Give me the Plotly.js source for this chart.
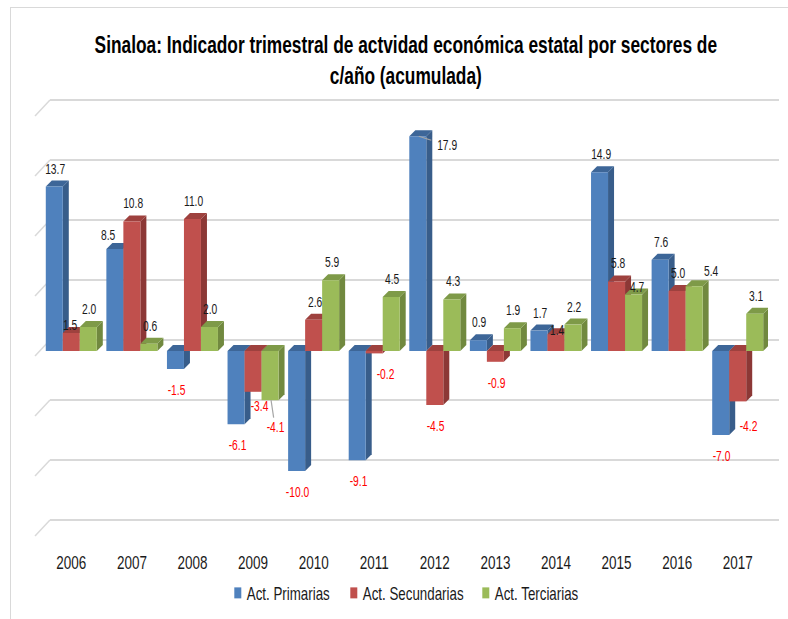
<!DOCTYPE html>
<html>
<head>
<meta charset="utf-8">
<script src="https://cdn.plot.ly/plotly-3.0.1.min.js"></script>
<style>
  html, body { margin: 0; padding: 0; background: #ffffff; overflow: hidden; }
  #chart { position: absolute; left: 0; top: 0; width: 788px; height: 619px; }
  #frame { position: absolute; left: 10px; top: 7px; width: 778px; height: 612px;
           border-left: 1.5px solid #d9d9d9; border-top: 1.5px solid #d9d9d9;
           pointer-events: none; z-index: 5; }
</style>
</head>
<body>
<div id="chart"></div>
<div id="frame"></div>
<script>
// ---------------- data ----------------
const years = ['2006','2007','2008','2009','2010','2011','2012','2013','2014','2015','2016','2017'];
const primarias   = [13.7, 8.5, -1.5, -6.1, -10.0, -9.1, 17.9, 0.9, 1.7, 14.9, 7.6, -7.0];
const secundarias = [1.5, 10.8, 11.0, -3.4, 2.6, -0.2, -4.5, -0.9, 1.4, 5.8, 5.0, -4.2];
const terciarias  = [2.0, 0.6, 2.0, -4.1, 5.9, 4.5, 4.3, 1.9, 2.2, 4.7, 5.4, 3.1];
const seriesNames = ['Act. Primarias', 'Act. Secundarias', 'Act. Terciarias'];
const gridVals = [-15, -10, -5, 0, 5, 10, 15, 20];
const titleLine1 = 'Sinaloa: Indicador trimestral de actvidad económica estatal por sectores de';
const titleLine2 = 'c/año (acumulada)';

// ---------------- styling ----------------
const frontColors = ['#4F81BD', '#C0504D', '#9BBB59'];
const sideColors  = ['#385D8A', '#8C3836', '#71893F'];
const topColors   = ['#3D6698', '#9E413E', '#7E9A48'];
const fam = 'Liberation Sans, Arial, sans-serif';

// label placement tweaks (pixels) keyed "series|year", as Excel moved some labels
const labelNudge = {
  '0|2007': [-8, 4], '1|2006': [-2, 10], '1|2014': [0, 14], '2|2016': [16, 3],
  '1|2017': [10, 4], '1|2009': [5, -7], '1|2011': [10, 0], '2|2015': [2, 10]
};
// labels drawn with a short leader line: [text dx, text dy] from the bar end
const labelLeader = { '0|2012': [28, 9], '2|2009': [4, 27] };
// legend entry offsets (px) relative to the first entry
const legendOffsets = [0, 116, 248];

// text sizes (glyph height) and horizontal condensing to match the narrow face
const titleSize = 23.5, tickSize = 17.5, labelSize = 14.5, legendSize = 17.5;
const cv = document.createElement('canvas');
const ctx = cv.getContext('2d');
function natural(text, weight, size) {
  ctx.font = weight + ' ' + size + 'px "Liberation Sans", Arial, sans-serif';
  return ctx.measureText(text).width;
}
const sqTitle  = 623 / natural(titleLine1, 'bold', titleSize);
const sqTick   = 30 / natural('2006', 'normal', tickSize);
const sqLabel  = 20 / natural('13.7', 'normal', labelSize);
const sqLegend = 83 / natural('Act. Primarias', 'normal', legendSize);

// ---------------- geometry ----------------
const W = 788, H = 619;
const mL = 41, mR = 20, mT = 93, mB = 76;
const plotW = W - mL - mR;
const nCat = years.length;
const pxPerCat = plotW / nCat;
const bargap = 0.158;
const nSeries = 3;
const bw = (1 - bargap) / nSeries;
const bwPx = bw * pxPerCat;
const yRange = [-16, 21.5];
const pxPerUnit = (H - mT - mB) / (yRange[1] - yRange[0]);
const depthPx = 6;
const depthY = depthPx / pxPerUnit;
const wallShift = 11;

const series = [primarias, secundarias, terciarias];
const xIdx = years.map((_, i) => i);

const traces = series.map((vals, k) => ({
  type: 'bar',
  name: seriesNames[k],
  x: xIdx,
  y: vals,
  marker: { color: frontColors[k], line: { width: 0 } },
  hoverinfo: 'skip'
}));

const shapes = [];
gridVals.forEach(v => {
  shapes.push({
    type: 'line', layer: 'below',
    xref: 'paper', xsizemode: 'pixel', xanchor: 0, x0: 9, x1: 738,
    yref: 'y', ysizemode: 'pixel', yanchor: v, y0: wallShift, y1: wallShift,
    line: { color: '#d9d9d9', width: 2 }
  });
  shapes.push({
    type: 'line', layer: 'below',
    xref: 'paper', xsizemode: 'pixel', xanchor: 0, x0: -6, x1: 9,
    yref: 'y', ysizemode: 'pixel', yanchor: v, y0: wallShift - 16, y1: wallShift,
    line: { color: '#d9d9d9', width: 1.5 }
  });
});

series.forEach((vals, k) => {
  vals.forEach((v, i) => {
    const xc = i + (k - 1) * bw;
    const xl = xc - bw / 2, xr = xc + bw / 2;
    const yt = Math.max(v, 0), yb = Math.min(v, 0);
    shapes.push({
      type: 'path', layer: 'below',
      xref: 'x', xsizemode: 'pixel', xanchor: xr,
      yref: 'y',
      path: `M0,${yb} L0,${yt} L${depthPx},${yt + depthY} L${depthPx},${yb + depthY} Z`,
      fillcolor: sideColors[k], line: { width: 0 }
    });
    shapes.push({
      type: 'path', layer: 'below',
      xref: 'x', xsizemode: 'pixel', xanchor: xl,
      yref: 'y',
      path: `M0,${yt} L${bwPx},${yt} L${bwPx + depthPx},${yt + depthY} L${depthPx},${yt + depthY} Z`,
      fillcolor: topColors[k], line: { width: 0 }
    });
  });
});

const annotations = [];
series.forEach((vals, k) => {
  vals.forEach((v, i) => {
    const key = k + '|' + years[i];
    const font = { family: fam, size: labelSize, color: v >= 0 ? '#1a1a1a' : '#ff0000' };
    if (labelLeader[key]) {
      annotations.push({
        x: i + (k - 1) * bw, y: v, xref: 'x', yref: 'y', xshift: 1,
        ax: labelLeader[key][0], ay: labelLeader[key][1],
        showarrow: true, arrowhead: 0, arrowwidth: 1.2, arrowcolor: '#a6a6a6',
        standoff: 0, startstandoff: 0,
        text: v.toFixed(1), font: font
      });
    } else {
      const nd = labelNudge[key] || [0, 0];
      annotations.push({
        x: i + (k - 1) * bw, y: v, xref: 'x', yref: 'y',
        xshift: 1 + nd[0], yshift: (v >= 0 ? 18 : -21) - nd[1],
        text: v.toFixed(1), showarrow: false, font: font
      });
    }
  });
});

const layout = {
  width: W, height: H,
  margin: { l: mL, r: mR, t: mT, b: mB },
  paper_bgcolor: '#ffffff', plot_bgcolor: 'rgba(0,0,0,0)',
  barmode: 'group', bargap: bargap, bargroupgap: 0,
  showlegend: true,
  title: {
    text: titleLine1 + '<br>' + titleLine2,
    font: { family: fam, size: titleSize, color: '#000000', weight: 'bold' },
    x: 0.515, xanchor: 'center', xref: 'container',
    y: 1 - 53 / H, yanchor: 'top', yref: 'container'
  },
  xaxis: {
    type: 'linear', range: [-0.5, nCat - 0.5],
    tickvals: xIdx, ticktext: years,
    showgrid: false, zeroline: false, showline: false, ticks: '',
    ticklabelstandoff: 8,
    tickfont: { family: fam, size: tickSize, color: '#1a1a1a' },
    fixedrange: true
  },
  yaxis: {
    range: yRange, showgrid: false, zeroline: false, showline: false,
    showticklabels: false, ticks: '', fixedrange: true
  },
  legend: {
    orientation: 'h', x: 0.4934, xanchor: 'center', xref: 'container',
    y: 1 - 593 / H, yanchor: 'middle', yref: 'container',
    entrywidth: 69, entrywidthmode: 'pixels',
    font: { family: fam, size: legendSize, color: '#1a1a1a' },
    itemclick: false, itemdoubleclick: false, traceorder: 'normal'
  },
  shapes: shapes,
  annotations: annotations
};

// condense a text horizontally around its own anchor x
function condense(el, f) {
  const x = parseFloat(el.getAttribute('x')) || 0;
  const prev = el.getAttribute('transform') || '';
  el.setAttribute('transform', `${prev} translate(${x},0) scale(${f.toFixed(4)},1) translate(${-x},0)`);
}

Plotly.newPlot('chart', traces, layout, { staticPlot: true, displayModeBar: false }).then(gd => {
  gd.querySelectorAll('.gtitle').forEach(t => condense(t, sqTitle));
  gd.querySelectorAll('.xtick text').forEach(t => condense(t, sqTick));
  gd.querySelectorAll('.annotation-text').forEach(t => condense(t, sqLabel));
  gd.querySelectorAll('.legendtext').forEach(t => {
    t.setAttribute('x', '29');
    condense(t, sqLegend);
  });
  gd.querySelectorAll('.legend .legendpoints path').forEach(p => {
    p.setAttribute('d', 'M3.5,5.5H-3.5V-5.5H3.5Z');
  });
  gd.querySelectorAll('.legend .scrollbox, .legend').forEach(s => s.removeAttribute('clip-path'));
  const items = gd.querySelectorAll('.legend .traces');
  if (items.length) {
    const re = /translate\(\s*([-\d.]+)[ ,]+([-\d.]+)\s*\)/;
    const m = re.exec(items[0].getAttribute('transform') || '');
    const x0 = m ? parseFloat(m[1]) : 0;
    items.forEach((it, k) => {
      const mm = re.exec(it.getAttribute('transform') || '');
      const y = mm ? parseFloat(mm[2]) : 0;
      it.setAttribute('transform', `translate(${x0 + legendOffsets[k]},${y})`);
    });
  }
});
</script>
</body>
</html>
